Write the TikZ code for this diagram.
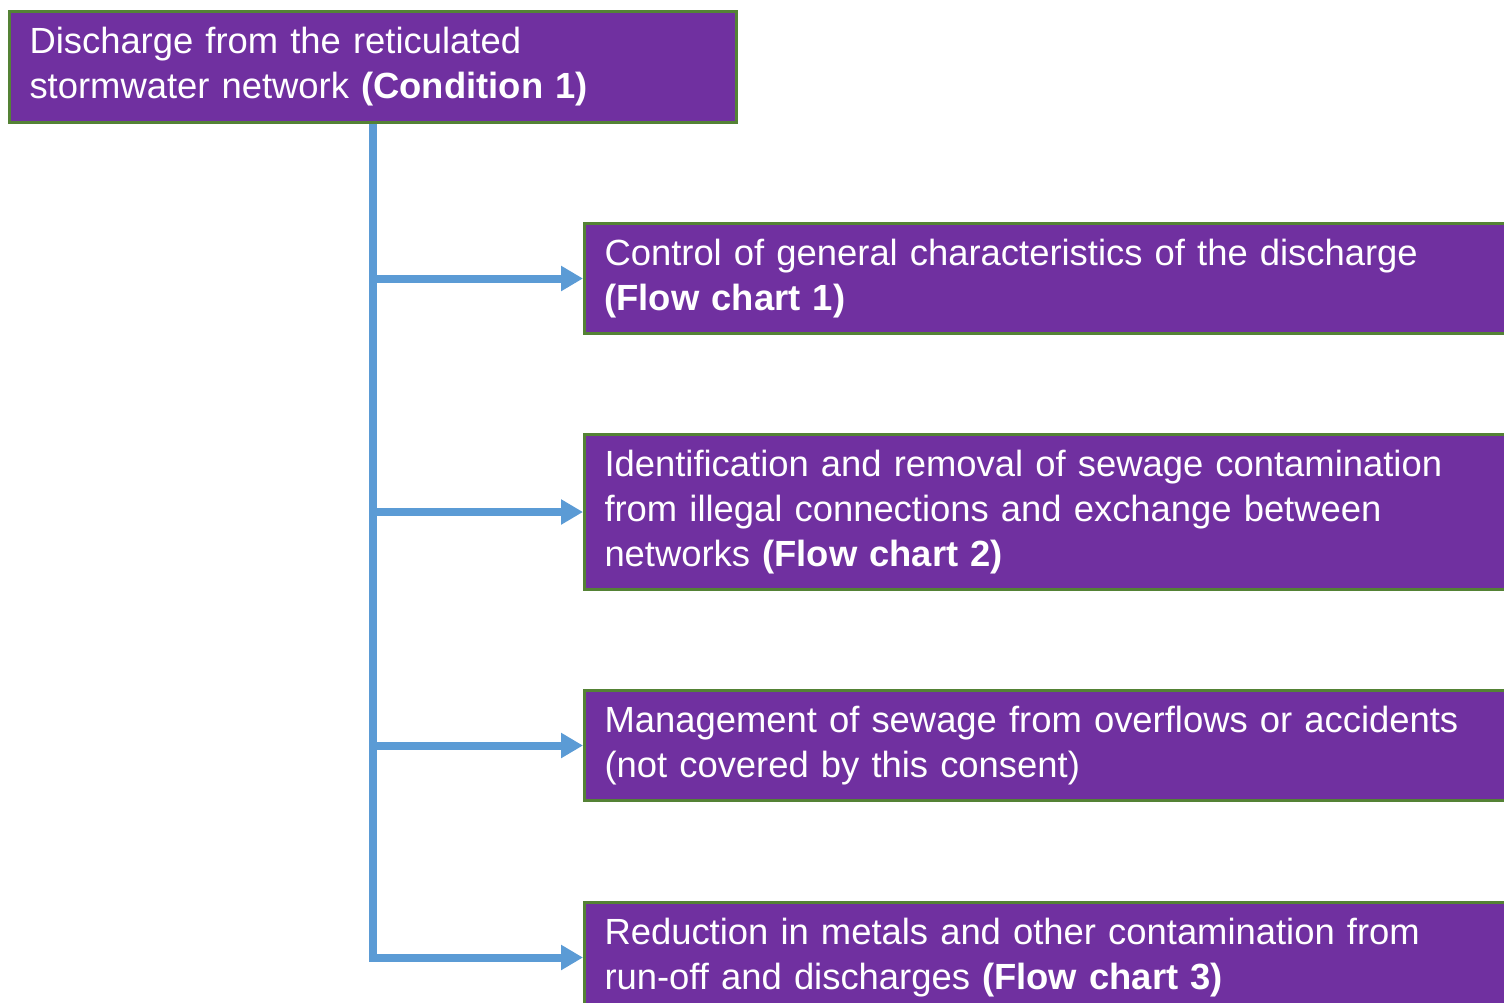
\documentclass[tikz,border=0pt]{standalone}
\usepackage{fontspec}
\setmainfont{Liberation Sans}
\usetikzlibrary{arrows.meta}
\definecolor{boxpurple}{HTML}{7030A0}
\definecolor{boxgreen}{HTML}{548235}
\definecolor{lineblue}{HTML}{5B9BD5}
\begin{document}
\begin{tikzpicture}[x=0.5pt,y=-0.5pt,
  box/.style={rectangle, draw=boxgreen, line width=1.5pt, fill=boxpurple,
    text=white, anchor=north west, align=left, inner xsep=10pt, inner ysep=0pt,
    font=\fontsize{18.2}{22.5}\selectfont},
  conn/.style={draw=lineblue, line width=4pt, -{Triangle[length=11pt,width=12pt]}}]
\useasboundingbox (0,0) rectangle (1504,1002);
\clip (0,0) rectangle (1504,1002);
\node[box, minimum width=363.5pt, minimum height=55.5pt, text width=343.5pt] (top) at (8,10)
  {Discharge from the reticulated\\stormwater network \textbf{(Condition 1)}};
\node[box, minimum width=470pt, minimum height=55pt, text width=450pt] (b1) at (583,222)
  {Control of general characteristics of the discharge\\\textbf{(Flow chart 1)}};
\node[box, minimum width=470pt, minimum height=77.5pt, text width=450pt] (b2) at (583,433)
  {Identification and removal of sewage contamination\\from illegal connections and exchange between\\networks \textbf{(Flow chart 2)}};
\node[box, minimum width=470pt, minimum height=55pt, text width=450pt] (b3) at (583,689)
  {Management of sewage from overflows or accidents\\(not covered by this consent)};
\node[box, minimum width=470pt, minimum height=55pt, text width=450pt] (b4) at (583,901)
  {Reduction in metals and other contamination from\\run-off and discharges \textbf{(Flow chart 3)}};
\draw[conn] (top.south) |- (b4.west);
\draw[conn] (top.south |- b1.west) -- (b1.west);
\draw[conn] (top.south |- b2.west) -- (b2.west);
\draw[conn] (top.south |- b3.west) -- (b3.west);
\end{tikzpicture}
\end{document}
